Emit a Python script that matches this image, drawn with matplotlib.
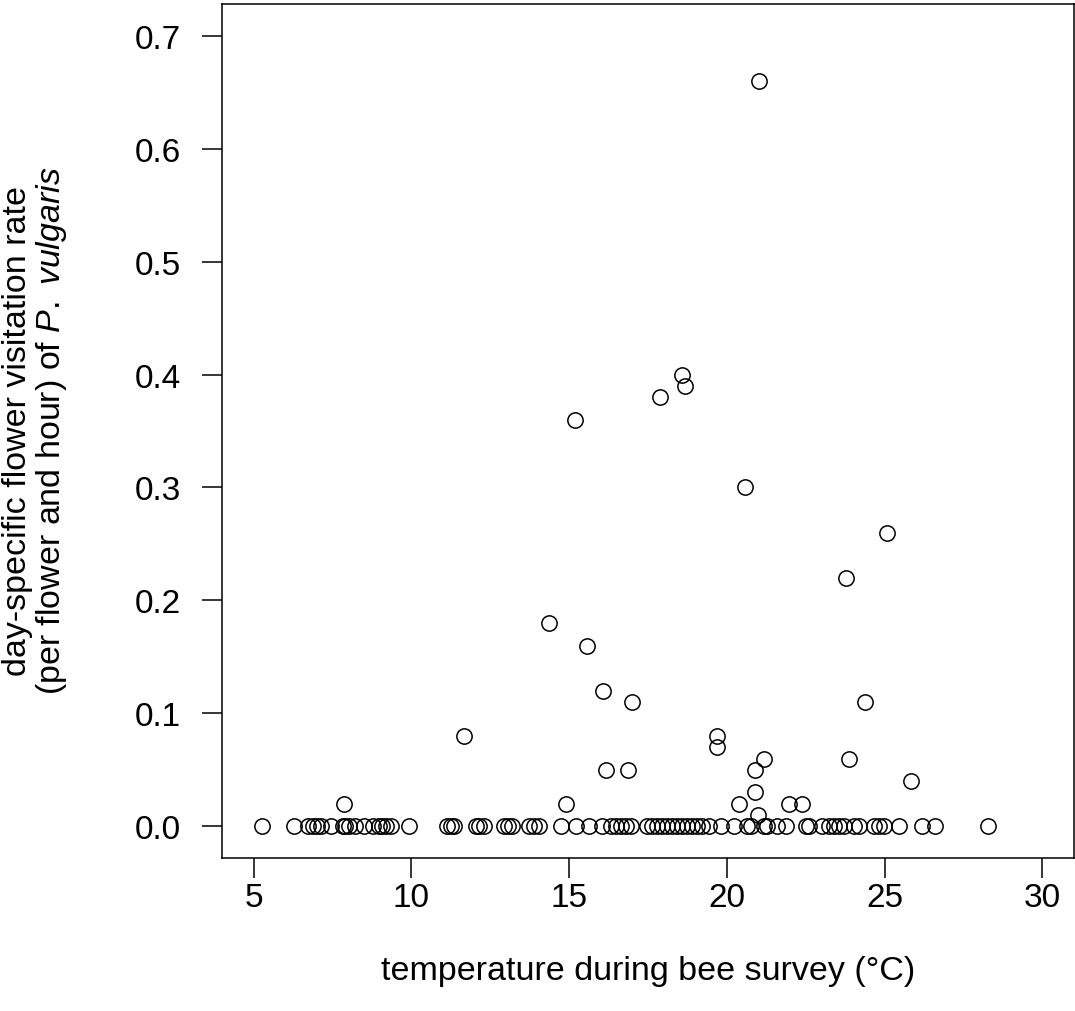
import numpy as np
import matplotlib.pyplot as plt

plt.rcParams['font.family'] = ['Liberation Sans', 'DejaVu Sans']
plt.rcParams['mathtext.fontset'] = 'custom'
plt.rcParams['mathtext.it'] = 'Liberation Sans:italic'
plt.rcParams['mathtext.rm'] = 'Liberation Sans'

# temperatures of surveys with no visits
temp_zero = [5.28, 6.27, 6.74, 6.87, 7.0, 7.15, 7.47, 7.82, 7.91, 8.01, 8.2, 8.51,
             8.77, 8.96, 9.08, 9.21, 9.37, 9.94, 11.14, 11.27, 11.36, 12.06, 12.15,
             12.31, 12.94, 13.07, 13.2, 13.73, 13.89, 14.05, 14.75, 15.22, 15.63,
             16.04, 16.33, 16.49, 16.65, 16.8, 16.96, 17.47, 17.63, 17.78, 17.94,
             18.1, 18.26, 18.42, 18.58, 18.73, 18.89, 19.05, 19.21, 19.43, 19.81,
             20.22, 20.63, 20.76, 21.17, 21.27, 21.58, 21.87, 22.5, 22.59, 23.0,
             23.23, 23.39, 23.54, 23.7, 24.02, 24.18, 24.65, 24.81, 24.97, 25.44,
             26.17, 26.61, 28.29]

# surveys with visits
temp_visit = [7.88, 11.68, 14.9, 14.37, 15.19, 15.57, 16.08, 16.17, 16.87, 17.0,
              17.88, 18.58, 18.67, 21.01, 20.57, 19.68, 19.68, 20.38, 20.89, 20.89,
              20.98, 21.17, 21.96, 22.37, 23.77, 23.86, 24.37, 25.06, 25.85]
rate_visit = [0.02, 0.08, 0.02, 0.18, 0.36, 0.16, 0.12, 0.05, 0.05, 0.11,
              0.38, 0.40, 0.39, 0.66, 0.30, 0.08, 0.07, 0.02, 0.05, 0.03,
              0.01, 0.06, 0.02, 0.02, 0.22, 0.06, 0.11, 0.26, 0.04]

temp = np.array(temp_zero + temp_visit)
rate = np.array([0.0] * len(temp_zero) + rate_visit)

fig = plt.figure(figsize=(10.75, 10.12), dpi=100)
ax = fig.add_axes([222 / 1075, 1 - 859 / 1012, 852 / 1075, 854 / 1012])

ax.plot(temp, rate, 'o', mfc='none', mec='black', ms=11, mew=1.1)

ax.set_xlim(4, 31)
ax.set_ylim(-0.028, 0.728)
ax.set_xticks([5, 10, 15, 20, 25, 30])
ax.set_yticks(np.arange(0, 0.71, 0.1))
ax.set_yticklabels(['%.1f' % v for v in np.arange(0, 0.71, 0.1)])
ax.tick_params(length=14.5, width=1.1, labelsize=24)
ax.tick_params(axis='x', pad=3)
ax.tick_params(axis='y', pad=15)
for s in ax.spines.values():
    s.set_linewidth(1.1)

ax.set_xlabel('temperature during bee survey (°C)', fontsize=24.5, labelpad=30)
fig.text(18 / 1075, 1 - 431 / 1012, 'day-specific flower visitation rate',
         rotation=90, ha='center', va='center', fontsize=24.5)
fig.text(52 / 1075, 1 - 431 / 1012, r'(per flower and hour) of $\it{P.\ vulgaris}$',
         rotation=90, ha='center', va='center', fontsize=24.5)

fig.savefig('out.png', dpi=100)
